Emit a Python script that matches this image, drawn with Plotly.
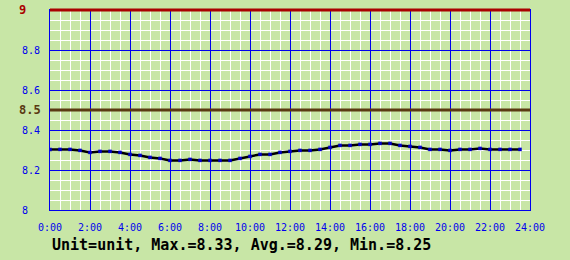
import plotly.graph_objects as go

# time in hours (every 30 minutes)
hours = [i * 0.5 for i in range(48)]
values = [8.303, 8.303, 8.303, 8.298, 8.288, 8.293, 8.293, 8.288, 8.278, 8.273,
          8.263, 8.258, 8.248, 8.248, 8.253, 8.248, 8.248, 8.248, 8.248, 8.258,
          8.268, 8.278, 8.278, 8.288, 8.293, 8.298, 8.298, 8.303, 8.313, 8.323,
          8.323, 8.328, 8.328, 8.333, 8.333, 8.323, 8.318, 8.313, 8.303, 8.303,
          8.298, 8.303, 8.303, 8.308, 8.303, 8.303, 8.303, 8.303]

x_tickvals = list(range(0, 25, 2))
x_ticktext = [f"{h}:00" for h in x_tickvals]
y_tickvals = [8, 8.2, 8.4, 8.6, 8.8]
y_ticktext = ["8", "8.2", "8.4", "8.6", "8.8"]
y_range = [8, 9]

limit_values = [9, 8.5]
limit_labels = ["9", "8.5"]
limit_colors = ["#AA0000", "#5A3A12"]

caption = "Unit=unit, Max.=8.33, Avg.=8.29, Min.=8.25"

BG = "#C8E6A6"
BLUE = "#0000EE"
MONO = "DejaVu Sans Mono"

fig = go.Figure()
fig.add_trace(go.Scatter(
    x=hours, y=values, mode="lines",
    line=dict(color="black", width=2.5),
    hoverinfo="skip",
))
fig.add_trace(go.Scatter(
    x=hours, y=values, mode="markers",
    marker=dict(symbol="square", size=3.5, color="#0000CC", line=dict(width=0)),
    hoverinfo="skip",
))

shapes = []
annotations = []
for v, lab, col in zip(limit_values, limit_labels, limit_colors):
    frac = (v - y_range[0]) / (y_range[1] - y_range[0])
    shapes.append(dict(type="line", xref="paper", x0=0, x1=1, yref="paper", y0=frac, y1=frac,
                       line=dict(color=col, width=3), layer="above"))
    annotations.append(dict(text=f"<b>{lab}</b>", xref="paper", x=-33 / 480, xanchor="left",
                            yref="y", y=v, yanchor="middle", showarrow=False,
                            font=dict(family=MONO, size=12, color=col)))
for v, lab in zip(y_tickvals, y_ticktext):
    annotations.append(dict(text=lab, xref="paper", x=-30 / 480, xanchor="left",
                            yref="y", y=v, yanchor="middle", showarrow=False,
                            font=dict(family=MONO, size=10, color=BLUE)))
annotations.append(dict(text=f"<b>{caption}</b>", xref="paper", x=0, xanchor="left",
                        yref="paper", y=-35 / 200, yanchor="middle", showarrow=False,
                        font=dict(family=MONO, size=15, color="black")))

fig.update_layout(
    width=570, height=260,
    margin=dict(l=50, r=40, t=10, b=50),
    paper_bgcolor=BG, plot_bgcolor=BG,
    showlegend=False,
    shapes=shapes, annotations=annotations,
    xaxis=dict(range=[0, 24], tickvals=x_tickvals, ticktext=x_ticktext,
               showgrid=True, gridcolor=BLUE, gridwidth=1,
               minor=dict(dtick=0.5, showgrid=True, gridcolor="white", gridwidth=1),
               showline=True, linecolor=BLUE, linewidth=1, mirror=True,
               ticks="outside", ticklen=8, tickcolor=BG,
               tickfont=dict(family=MONO, size=10, color=BLUE), zeroline=False),
    yaxis=dict(range=y_range, tickvals=[8, 8.2, 8.4, 8.6, 8.8, 9],
               showticklabels=False,
               showgrid=True, gridcolor=BLUE, gridwidth=1,
               minor=dict(dtick=0.05, tick0=8, showgrid=True, gridcolor="white", gridwidth=1),
               showline=True, linecolor=BLUE, linewidth=1, mirror=True,
               zeroline=False),
)

fig.write_html("out.html")
